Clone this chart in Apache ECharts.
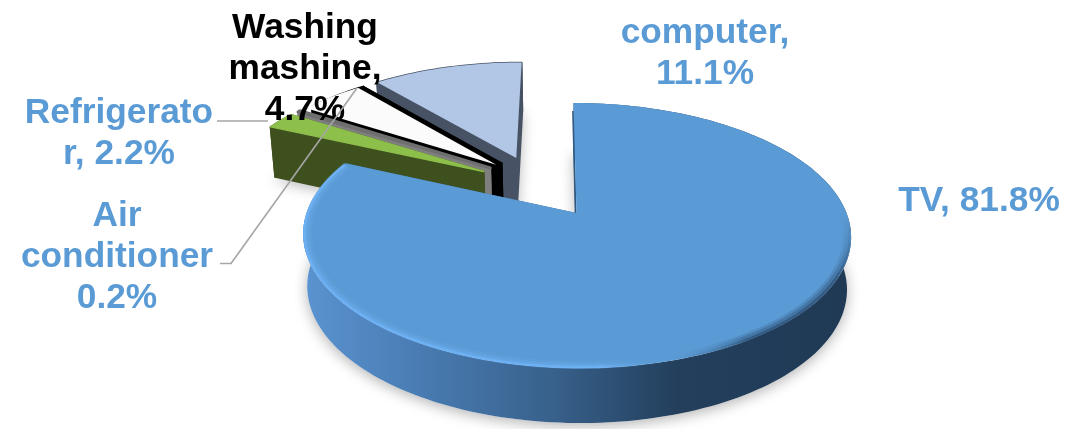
<!DOCTYPE html>
<html>
<head>
<meta charset="utf-8">
<style>html,body{margin:0;padding:0;background:#fff}#chart{width:1076px;height:429px}</style>
<script src="https://cdn.jsdelivr.net/npm/echarts@6/dist/echarts.min.js"></script>
</head>
<body>
<div id="chart"></div>
<script>
// Household appliance shares, clockwise from twelve o'clock.
const categories = ['TV', 'Refrigerator', 'Air conditioner', 'Washing mashine', 'computer'];
const shares = [81.8, 2.2, 0.2, 4.7, 11.1];
const labelPrefixes = ['TV, ', 'Refrigerato\nr, ', 'Air\nconditioner\n', 'Washing\nmashine,\n', 'computer,\n'];

// Slice appearance and how far each one is pulled out of the pie.
const explodeLength = [0, 0.495, 0.50, 0.507, 0.517];
const explodeBearing = [0, 313.5, 318, 325, 333];
const faceColors = ['#5b9bd5', '#8dbf4b', '#6f6f6f', '#000000', '#b2c6e6'];
const wallColors = ['#3c6591', '#3f501f', '#7f7f7f', '#000000', '#475364'];
const faceStroke = [0, 1.5, 3, 0, 0];
// The washing machine's visible face sits on its black body.
const innerFace = { index: 3, bearing: 322, length: 0.507, color: '#fbfbfb' };

// Back-to-front painting order.
const paintOrder = [4, 3, 2, 1, 0];

// Label blocks and their leader lines, in page pixels.
const labelCenters = [[979, 201], [119, 134], [117, 257], [305, 69], [705, 54]];
const labelColors = ['#5b9bd5', '#5b9bd5', '#5b9bd5', '#000000', '#5b9bd5'];
const leaderPaths = [
  [[217, 121], [268, 121]],
  [[220, 263.5], [231, 263.5], [357, 88]]
];

// Projection of the unit disc onto the page, with perspective and a slight lean.
const VIEW = { x0: 576.5, y0: 213, a: 128.7, b: 270, k: 0.17, lean: -3.5 };
const rad = d => d * Math.PI / 180;

function topPoint(u, v) {
  const w = 1 + VIEW.k * v;
  return [VIEW.x0 + (VIEW.b * u + VIEW.lean * v) / w, VIEW.y0 - VIEW.a * v / w];
}
function bottomPoint(u, v) {
  const p = topPoint(u, v);
  const w = 1 + VIEW.k * v;
  return [VIEW.x0 + (p[0] - VIEW.x0) * 0.985, p[1] + 52 / Math.pow(w, 0.3)];
}

const sliceAngles = [];
shares.reduce((start, s) => {
  const sweep = s / shares.reduce((a, b) => a + b, 0) * 360;
  sliceAngles.push([start, start + sweep]);
  return start + sweep;
}, 0);

function offsetOf(length, bearing) {
  return [length * Math.sin(rad(bearing)), length * Math.cos(rad(bearing))];
}
function arcPoints(a0, a1, off, r, fn) {
  const steps = Math.max(2, Math.ceil((a1 - a0) / 1.5));
  const pts = [];
  for (let i = 0; i <= steps; i++) {
    const t = rad(a0 + (a1 - a0) * i / steps);
    pts.push(fn(off[0] + r * Math.sin(t), off[1] + r * Math.cos(t)));
  }
  return pts;
}
function wedge(a0, a1, off, fn) {
  return [fn(off[0], off[1])].concat(arcPoints(a0, a1, off, 1, fn));
}
function poly(points, style, z2) {
  return { type: 'polygon', shape: { points }, style, z2, silent: true };
}
function line(points, stroke, width, z2) {
  return {
    type: 'polyline', shape: { points }, silent: true, z2,
    style: { fill: 'none', stroke, lineWidth: width, lineJoin: 'round', lineCap: 'butt' }
  };
}
function sideGradient(stops) {
  return {
    type: 'linear', global: true, x: 306, y: 0, x2: 851, y2: 0,
    colorStops: stops.map(s => ({ offset: s[0], color: s[1] }))
  };
}
// Runs along the front edge from the upper right towards the lower left.
function bevelGradient(light, dark) {
  return {
    type: 'linear', global: true, x: 840, y: 170, x2: 555, y2: 470,
    colorStops: [
      { offset: 0.07, color: 'rgba(38,70,105,0)' },
      { offset: 0.2, color: `rgba(38,70,105,${dark})` },
      { offset: 0.45, color: `rgba(38,70,105,${dark})` },
      { offset: 0.63, color: 'rgba(91,155,213,0)' },
      { offset: 0.74, color: `rgba(112,180,248,${light})` },
      { offset: 1, color: `rgba(112,180,248,${light})` }
    ]
  };
}

// Soft ground shadow under every slice.
function renderShadow(params, api) {
  const i = api.value(1);
  const [a0, a1] = sliceAngles[i];
  const off = offsetOf(explodeLength[i], explodeBearing[i]);
  return poly(wedge(a0, a1, off, bottomPoint), {
    fill: '#ffffff',
    shadowColor: 'rgba(0,0,0,0.3)',
    shadowBlur: 14,
    shadowOffsetY: 3
  }, 0);
}

// One slice: radial walls, rim wall, then the top face.
function renderSlice(params, api) {
  const i = api.value(1);
  const [a0, a1] = sliceAngles[i];
  const off = offsetOf(explodeLength[i], explodeBearing[i]);
  const base = (paintOrder.indexOf(i) + 1) * 10;
  const children = [];
  const wallStyle = { fill: wallColors[i], stroke: wallColors[i], lineWidth: i === 0 ? 0 : 1.5, lineJoin: 'round' };

  const apexTop = topPoint(off[0], off[1]);
  const apexBottom = bottomPoint(off[0], off[1]);
  const topArc = arcPoints(a0, a1, off, 1, topPoint);
  const bottomArc = arcPoints(a0, a1, off, 1, bottomPoint);

  // Walls along the two straight edges
  [[topArc[0], bottomArc[0]], [topArc[topArc.length - 1], bottomArc[bottomArc.length - 1]]].forEach(edge => {
    children.push(poly([apexTop, edge[0], edge[1], apexBottom], wallStyle, base));
  });
  if (i === 0) {
    // Thin sliver of the wall showing along the twelve o'clock edge
    children.push(line([
      [topArc[0][0] - 0.6, topArc[0][1] + 8], [apexTop[0] - 1, apexTop[1]]
    ], '#2f5880', 1.6, base + 1));
  }

  // Outer rim wall
  const rimFill = i === 0
    ? sideGradient([[0, '#5a93d0'], [0.17, '#4c80b8'], [0.45, '#38618c'], [0.68, '#233f5c'], [1, '#203a55']])
    : wallColors[i];
  children.push(poly(topArc.concat(bottomArc.slice().reverse()),
    { fill: rimFill, stroke: i === 0 ? null : rimFill, lineWidth: i === 0 ? 0 : 1.5, lineJoin: 'round' }, base + 2));

  // Top face
  children.push(poly(wedge(a0, a1, off, topPoint), {
    fill: faceColors[i],
    stroke: faceStroke[i] ? faceColors[i] : null,
    lineWidth: faceStroke[i],
    lineJoin: 'round'
  }, base + 3));

  if (i === innerFace.index) {
    const inner = offsetOf(innerFace.length, innerFace.bearing);
    children.push(poly(wedge(a0, a1, inner, topPoint), { fill: innerFace.color }, base + 4));
  }

  if (i === 0) {
    // Bevel along the front of the big slice: bright on the left, dark on the right,
    // built from nested strokes so that it fades into the face.
    const bevel = [[0.984, 8, 0.12, 0.2], [0.989, 5.5, 0.25, 0.3], [0.995, 2.6, 0.75, 0.55]];
    bevel.forEach((b, n) => {
      children.push(line(arcPoints(60, a1 - 1, off, b[0], topPoint), bevelGradient(b[2], b[3]), b[1], base + 5 + n));
    });
  }
  return { type: 'group', children };
}

function renderLabel(params, api) {
  const i = api.value(1);
  return {
    type: 'text', silent: true, z2: 100,
    x: labelCenters[i][0], y: labelCenters[i][1],
    style: {
      text: labelPrefixes[i] + api.value(0).toFixed(1) + '%',
      font: 'bold 35.3px "Liberation Sans", Arial, sans-serif',
      lineHeight: 41,
      fill: labelColors[i],
      align: 'center',
      verticalAlign: 'middle'
    }
  };
}

function renderLeader(params, api) {
  return line(leaderPaths[api.value(0)], '#a6a6a6', 1.6, 110);
}

const sliceRows = paintOrder.map(i => [shares[i], i]);

const chart = echarts.init(document.getElementById('chart'), null, { renderer: 'canvas' });
chart.setOption({
  animation: false,
  backgroundColor: '#ffffff',
  series: [
    { type: 'custom', name: 'shadow', coordinateSystem: 'none', z: 1, silent: true, renderItem: renderShadow, data: sliceRows },
    { type: 'custom', name: 'share', coordinateSystem: 'none', z: 2, silent: true, renderItem: renderSlice, data: sliceRows },
    { type: 'custom', name: 'labels', coordinateSystem: 'none', z: 3, silent: true, renderItem: renderLabel, data: shares.map((s, i) => [s, i]) },
    { type: 'custom', name: 'leaders', coordinateSystem: 'none', z: 4, silent: true, renderItem: renderLeader, data: leaderPaths.map((p, i) => [i, i]) }
  ]
});
</script>
</body>
</html>
